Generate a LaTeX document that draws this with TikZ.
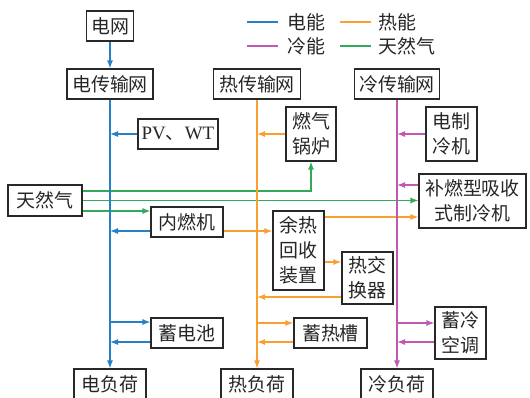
\documentclass[tikz,border=0pt]{standalone}
\usepackage{fontspec}
\setmainfont{Noto Sans CJK SC}
\newfontfamily\latinfont{Liberation Serif}
\usetikzlibrary{arrows.meta}
\definecolor{eblue}{RGB}{38,128,200}
\definecolor{horange}{RGB}{250,160,50}
\definecolor{cpurple}{RGB}{190,90,180}
\definecolor{ggreen}{RGB}{50,170,90}
\definecolor{boxline}{RGB}{40,40,40}
\begin{document}
\begin{tikzpicture}[x=1bp,y=-1bp,
  box/.style={draw=boxline,line width=1.1bp,inner sep=0pt,align=center,
    font=\fontsize{19}{25}\selectfont,text=black!85},
  leg/.style={inner sep=0pt,anchor=west,font=\fontsize{19}{25}\selectfont,text=black!85},
  tip/.style={-{Latex[length=8bp,width=6bp]}},
  eline/.style={draw=eblue,line width=1.3bp},
  hline/.style={draw=horange,line width=1.3bp},
  cline/.style={draw=cpurple,line width=1.3bp},
  gline/.style={draw=ggreen,line width=1.3bp}]
\useasboundingbox (0,0) rectangle (530,397);

% legend
\coordinate (le1) at (247,22); \coordinate (le2) at (278,22);
\coordinate (lh1) at (340,22); \coordinate (lh2) at (371,22);
\coordinate (lc1) at (247,46); \coordinate (lc2) at (278,46);
\coordinate (lg1) at (340,46); \coordinate (lg2) at (371,46);
\draw[eline] (le1) -- (le2);
\draw[hline] (lh1) -- (lh2);
\draw[cline] (lc1) -- (lc2);
\draw[gline] (lg1) -- (lg2);
\node[leg] (legE) at (287,22) {电能};
\node[leg] (legH) at (378,22) {热能};
\node[leg] (legC) at (287,46) {冷能};
\node[leg] (legG) at (378,46) {天然气};

% boxes
\node[box,minimum width=47bp,minimum height=30bp] (grid) at (110,26) {电网};
\node[box,minimum width=86bp,minimum height=30bp] (eT) at (110,84) {电传输网};
\node[box,minimum width=87bp,minimum height=30bp] (hT) at (257,84) {热传输网};
\node[box,minimum width=85bp,minimum height=30bp] (cT) at (397,84) {冷传输网};
\node[box,minimum width=80bp,minimum height=30bp] (pv) at (178,134) {{\latinfont PV}、{\latinfont WT}};
\node[box,minimum width=50bp,minimum height=54bp] (boiler) at (311,134) {燃气\\锅炉};
\node[box,minimum width=51bp,minimum height=54bp] (ec) at (451.5,134) {电制\\冷机};
\node[box,minimum width=107bp,minimum height=54bp] (ab) at (472.5,201) {补燃型吸收\\式制冷机};
\node[box,minimum width=74bp,minimum height=31bp] (gas) at (45,200.5) {天然气};
\node[box,minimum width=72bp,minimum height=30bp] (ice) at (187,222) {内燃机};
\node[box,minimum width=51bp,minimum height=79bp] (whr) at (298.5,250.5) {余热\\回收\\装置};
\node[box,minimum width=51bp,minimum height=52bp] (hx) at (367.5,278) {热交\\换器};
\node[box,minimum width=72bp,minimum height=30bp] (bat) at (187,333) {蓄电池};
\node[box,minimum width=73bp,minimum height=30bp] (hs) at (330.5,333) {蓄热槽};
\node[box,minimum width=51bp,minimum height=52bp] (cs) at (460.5,333) {蓄冷\\空调};
\node[box,minimum width=72bp,minimum height=30bp] (eL) at (110,384) {电负荷};
\node[box,minimum width=72bp,minimum height=30bp] (hL) at (257,384) {热负荷};
\node[box,minimum width=72bp,minimum height=30bp] (cL) at (397,384) {冷负荷};

% connector ends
\coordinate (iceE) at ([yshift=-9bp]ice.west);
\coordinate (batIn) at ([yshift=11bp]bat.west);
\coordinate (batOut) at ([yshift=-9bp]bat.west);
\coordinate (iceH) at ([yshift=-9bp]ice.east);
\coordinate (whrA) at ([yshift=33.5bp]whr.east);
\coordinate (whrB) at ([yshift=-11.5bp]whr.east);
\coordinate (hxOut) at ([yshift=-19bp]hx.west);
\coordinate (hsIn) at ([yshift=10bp]hs.west);
\coordinate (hsOut) at ([yshift=-9bp]hs.west);
\coordinate (abC) at ([yshift=16bp]ab.west);
\coordinate (csIn) at ([yshift=10bp]cs.west);
\coordinate (csOut) at ([yshift=-9bp]cs.west);
\coordinate (g1) at ([yshift=9.5bp]gas.east);
\coordinate (g3) at ([yshift=-10.5bp]gas.east);

% natural gas
\draw[gline,tip] (g1) -| (boiler.south);
\draw[gline,tip] (gas.east) -- (gas.east -| ab.west);
\draw[gline,tip] (g3) -- (g3 -| ice.west);

% heat
\draw[hline,tip] (whrA) -- (whrA -| ab.west);
\draw[hline,tip] (iceH) -- (iceH -| whr.west);
\draw[hline,tip] (whrB) -- (whrB -| hx.west);
\draw[hline,tip] (hxOut) -- (hxOut -| hT.south);
\draw[hline,tip] (boiler.west) -- (boiler.west -| hT.south);
\draw[hline,tip] (hsIn -| hT.south) -- (hsIn);
\draw[hline,tip] (hsOut) -- (hsOut -| hT.south);

% electricity
\draw[eline,tip] (grid.south) -- (eT.north);
\draw[eline,tip] (pv.west) -- (pv.west -| eT.south);
\draw[eline,tip] (iceE) -- (iceE -| eT.south);
\draw[eline,tip] (batIn -| eT.south) -- (batIn);
\draw[eline,tip] (batOut) -- (batOut -| eT.south);

% cooling
\draw[cline,tip] (ec.west) -- (ec.west -| cT.south);
\draw[cline,tip] (abC) -- (abC -| cT.south);
\draw[cline,tip] (csIn -| cT.south) -- (csIn);
\draw[cline,tip] (csOut) -- (csOut -| cT.south);

% main buses
\draw[eline,tip] (eT.south) -- (eL.north);
\draw[hline,tip] (hT.south) -- (hL.north);
\draw[cline,tip] (cT.south) -- (cL.north);
\end{tikzpicture}
\end{document}
